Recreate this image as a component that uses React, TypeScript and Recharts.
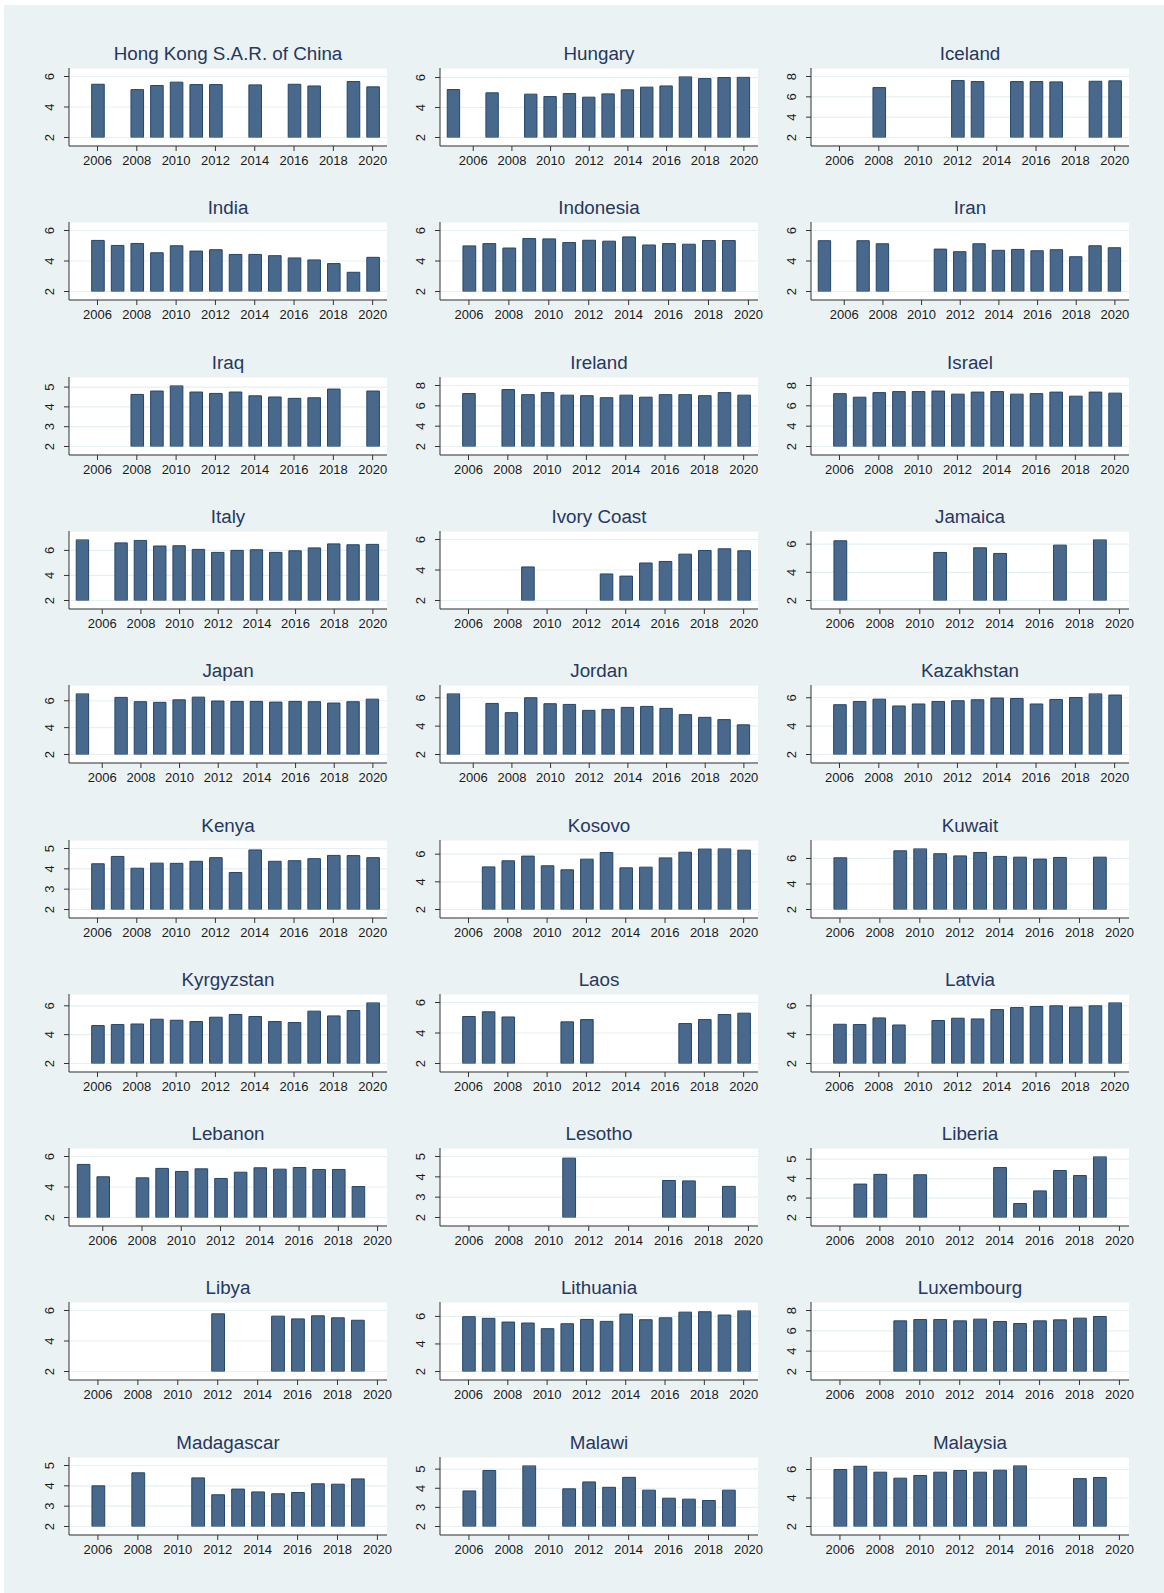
import { BarChart, Bar, XAxis, YAxis, CartesianGrid } from "recharts";

const YEARS = [2005, 2006, 2007, 2008, 2009, 2010, 2011, 2012, 2013, 2014, 2015, 2016, 2017, 2018, 2019, 2020];
const X_TICKS = [2006, 2008, 2010, 2012, 2014, 2016, 2018, 2020];
const TICKS_246 = [2, 4, 6];
const TICKS_2468 = [2, 4, 6, 8];
const TICKS_2345 = [2, 3, 4, 5];
const BASE = 2;

// one value per year 2005..2020, null = no observation
const hongKong = [null, 5.49, null, 5.14, 5.41, 5.63, 5.47, 5.47, null, 5.45, null, 5.49, 5.38, null, 5.67, 5.32];
const hungary = [5.2, null, 4.98, null, 4.89, 4.73, 4.93, 4.69, 4.91, 5.18, 5.36, 5.44, 6.07, 5.93, 6.0, 6.02];
const iceland = [null, null, null, 6.91, null, null, null, 7.6, 7.5, null, 7.5, 7.5, 7.47, null, 7.53, 7.57];
const india = [null, 5.35, 5.02, 5.15, 4.54, 5.0, 4.65, 4.74, 4.43, 4.43, 4.35, 4.2, 4.07, 3.83, 3.26, 4.24];
const indonesia = [null, 4.99, 5.14, 4.85, 5.47, 5.45, 5.21, 5.36, 5.3, 5.58, 5.05, 5.14, 5.1, 5.34, 5.34, null];
const iran = [5.33, null, 5.33, 5.13, null, null, 4.78, 4.61, 5.13, 4.7, 4.76, 4.67, 4.74, 4.28, 5.0, 4.87];
const iraq = [null, null, null, 4.63, 4.8, 5.08, 4.75, 4.68, 4.75, 4.56, 4.5, 4.43, 4.46, 4.9, null, 4.8];
const ireland = [null, 7.21, null, 7.6, 7.1, 7.3, 7.05, 7.0, 6.8, 7.05, 6.85, 7.1, 7.1, 7.0, 7.3, 7.05];
const israel = [null, 7.2, 6.85, 7.3, 7.4, 7.4, 7.45, 7.15, 7.35, 7.4, 7.15, 7.2, 7.35, 6.95, 7.35, 7.25];
const italy = [6.87, null, 6.6, 6.8, 6.35, 6.37, 6.08, 5.84, 6.0, 6.05, 5.84, 5.97, 6.2, 6.52, 6.45, 6.48];
const ivoryCoast = [null, null, null, null, 4.2, null, null, null, 3.74, 3.6, 4.46, 4.56, 5.04, 5.28, 5.39, 5.26];
const jamaica = [null, 6.24, null, null, null, null, 5.41, null, 5.74, 5.34, null, null, 5.93, null, 6.33, null];
const japan = [6.54, null, 6.25, 5.93, 5.88, 6.07, 6.27, 5.98, 5.95, 5.95, 5.9, 5.95, 5.93, 5.83, 5.93, 6.12];
const jordan = [6.3, null, 5.6, 4.95, 6.0, 5.58, 5.53, 5.11, 5.18, 5.32, 5.39, 5.25, 4.81, 4.62, 4.46, 4.09];
const kazakhstan = [null, 5.51, 5.74, 5.9, 5.42, 5.56, 5.74, 5.79, 5.86, 5.98, 5.95, 5.56, 5.88, 6.02, 6.3, 6.19];
const kenya = [null, 4.25, 4.61, 4.03, 4.28, 4.27, 4.37, 4.55, 3.82, 4.93, 4.37, 4.4, 4.5, 4.66, 4.65, 4.55];
const kosovo = [null, null, 5.08, 5.52, 5.86, 5.16, 4.87, 5.64, 6.12, 5.01, 5.06, 5.73, 6.14, 6.39, 6.41, 6.29];
const kuwait = [null, 6.05, null, null, 6.6, 6.78, 6.37, 6.2, 6.47, 6.16, 6.1, 5.95, 6.08, null, 6.1, null];
const kyrgyzstan = [null, 4.63, 4.7, 4.74, 5.07, 5.0, 4.91, 5.21, 5.4, 5.26, 4.91, 4.84, 5.63, 5.3, 5.67, 6.23];
const laos = [null, 5.08, 5.39, 5.05, null, null, 4.73, 4.88, null, null, null, null, 4.62, 4.88, 5.21, 5.3];
const latvia = [null, 4.72, 4.7, 5.16, 4.67, null, 4.98, 5.14, 5.09, 5.74, 5.88, 5.95, 6.0, 5.91, 6.0, 6.23];
const lebanon = [5.48, 4.67, null, 4.6, 5.22, 5.02, 5.19, 4.56, 4.97, 5.26, 5.17, 5.28, 5.15, 5.15, 4.03, null];
const lesotho = [null, null, null, null, null, null, 4.92, null, null, null, null, 3.82, 3.8, null, 3.53, null];
const liberia = [null, null, 3.72, 4.22, null, 4.2, null, null, null, 4.57, 2.72, 3.37, 4.42, 4.16, 5.14, null];
const libya = [null, null, null, null, null, null, null, 5.78, null, null, 5.63, 5.45, 5.65, 5.52, 5.36, null];
const lithuania = [null, 5.98, 5.86, 5.59, 5.52, 5.11, 5.47, 5.78, 5.64, 6.17, 5.76, 5.9, 6.31, 6.34, 6.1, 6.43];
const luxembourg = [null, null, null, null, 6.98, 7.11, 7.11, 6.98, 7.15, 6.92, 6.72, 6.98, 7.08, 7.25, 7.41, null];
const madagascar = [null, 4.0, null, 4.64, null, null, 4.39, 3.56, 3.84, 3.7, 3.61, 3.67, 4.1, 4.08, 4.34, null];
const malawi = [null, 3.86, 4.93, null, 5.19, null, 3.97, 4.33, 4.05, 4.57, 3.9, 3.48, 3.43, 3.36, 3.9, null];
const malaysia = [null, 6.0, 6.24, 5.81, 5.39, 5.58, 5.81, 5.93, 5.81, 5.95, 6.28, null, null, 5.36, 5.44, null];

const PANELS = [
  { name: "Hong Kong S.A.R. of China", values: hongKong, ticks: TICKS_246 },
  { name: "Hungary", values: hungary, ticks: TICKS_246 },
  { name: "Iceland", values: iceland, ticks: TICKS_2468 },
  { name: "India", values: india, ticks: TICKS_246 },
  { name: "Indonesia", values: indonesia, ticks: TICKS_246 },
  { name: "Iran", values: iran, ticks: TICKS_246 },
  { name: "Iraq", values: iraq, ticks: TICKS_2345 },
  { name: "Ireland", values: ireland, ticks: TICKS_2468 },
  { name: "Israel", values: israel, ticks: TICKS_2468 },
  { name: "Italy", values: italy, ticks: TICKS_246 },
  { name: "Ivory Coast", values: ivoryCoast, ticks: TICKS_246 },
  { name: "Jamaica", values: jamaica, ticks: TICKS_246 },
  { name: "Japan", values: japan, ticks: TICKS_246 },
  { name: "Jordan", values: jordan, ticks: TICKS_246 },
  { name: "Kazakhstan", values: kazakhstan, ticks: TICKS_246 },
  { name: "Kenya", values: kenya, ticks: TICKS_2345 },
  { name: "Kosovo", values: kosovo, ticks: TICKS_246 },
  { name: "Kuwait", values: kuwait, ticks: TICKS_246 },
  { name: "Kyrgyzstan", values: kyrgyzstan, ticks: TICKS_246 },
  { name: "Laos", values: laos, ticks: TICKS_246 },
  { name: "Latvia", values: latvia, ticks: TICKS_246 },
  { name: "Lebanon", values: lebanon, ticks: TICKS_246 },
  { name: "Lesotho", values: lesotho, ticks: TICKS_2345 },
  { name: "Liberia", values: liberia, ticks: TICKS_2345 },
  { name: "Libya", values: libya, ticks: TICKS_246 },
  { name: "Lithuania", values: lithuania, ticks: TICKS_246 },
  { name: "Luxembourg", values: luxembourg, ticks: TICKS_2468 },
  { name: "Madagascar", values: madagascar, ticks: TICKS_2345 },
  { name: "Malawi", values: malawi, ticks: TICKS_2345 },
  { name: "Malaysia", values: malaysia, ticks: TICKS_246 },
];

const FONT = "'Liberation Sans', Arial, Helvetica, sans-serif";
const BG = "#eaf2f3";
const GRID = "#e6eff1";
const AXIS = "#333333";
const BAR_FILL = "#48698b";
const BAR_STROKE = "#23466c";
const TITLE_COLOR = "#27375e";

const COL_X = [69, 440, 811];
const ROW_Y0 = 68;
const ROW_STEP = 154.3;
const PLOT_W = 318;
const PLOT_H = 78;
const AXIS_W = 52;
const AXIS_H = 30;
const RIGHT_PAD = 12;
const PAD = 8.5;

const XTick = (props: any) => {
  const { x, y, payload } = props;
  return (
    <text x={x} y={y + 13.8} textAnchor="middle" fontSize={13} fill="#1a1a1a" fontFamily={FONT}>
      {payload.value}
    </text>
  );
};

const YTick = (props: any) => {
  const { x, y, payload } = props;
  const bx = x - 10;
  return (
    <text
      x={bx}
      y={y}
      transform={`rotate(-90, ${bx}, ${y})`}
      textAnchor="middle"
      fontSize={13}
      fill="#1a1a1a"
      fontFamily={FONT}
    >
      {payload.value}
    </text>
  );
};

function Panel({ panel, index }: { panel: (typeof PANELS)[number]; index: number }) {
  const col = index % 3;
  const row = Math.floor(index / 3);
  const data = YEARS.map((year, i) => ({ year, v: panel.values[i] }))
    .filter((d) => d.v != null)
    .map((d) => ({ year: d.year, range: [BASE, d.v as number] }));

  const first = data[0].year;
  const last = data[data.length - 1].year;
  const lo = first <= 2005 ? 2004.28 : 2004.55;
  const hi = last >= 2020 ? 2020.73 : 2020.48;
  const top = Math.max(panel.ticks[panel.ticks.length - 1], ...data.map((d) => d.range[1]));
  const barSize = (0.64 * PLOT_W) / (hi - lo);

  const plotLeft = COL_X[col];
  const plotTop = ROW_Y0 + ROW_STEP * row;

  return (
    <>
      <div
        style={{
          position: "absolute",
          left: plotLeft,
          top: plotTop - 25,
          width: PLOT_W,
          height: 22,
          lineHeight: "22px",
          textAlign: "center",
          fontFamily: FONT,
          fontSize: 18.8,
          color: TITLE_COLOR,
          whiteSpace: "nowrap",
        }}
      >
        {panel.name}
      </div>
      <div style={{ position: "absolute", left: plotLeft - AXIS_W, top: plotTop }}>
        <BarChart
          width={AXIS_W + PLOT_W + RIGHT_PAD}
          height={PLOT_H + AXIS_H}
          data={data}
          margin={{ top: 0, right: RIGHT_PAD, bottom: 0, left: 0 }}
        >
          <CartesianGrid vertical={false} stroke={GRID} strokeWidth={1.2} fill="#ffffff" />
          <XAxis
            dataKey="year"
            type="number"
            domain={[lo, hi]}
            allowDataOverflow
            ticks={X_TICKS}
            interval={0}
            height={AXIS_H}
            tickSize={5}
            tickMargin={0}
            axisLine={{ stroke: AXIS }}
            tickLine={{ stroke: AXIS }}
            tick={<XTick />}
          />
          <YAxis
            type="number"
            domain={[BASE, top]}
            allowDataOverflow
            ticks={panel.ticks}
            interval={0}
            width={AXIS_W}
            tickSize={5}
            tickMargin={0}
            padding={{ top: PAD, bottom: PAD }}
            axisLine={{ stroke: AXIS }}
            tickLine={{ stroke: AXIS }}
            tick={<YTick />}
          />
          <Bar
            dataKey="range"
            fill={BAR_FILL}
            stroke={BAR_STROKE}
            strokeWidth={1}
            barSize={barSize}
            isAnimationActive={false}
          />
        </BarChart>
      </div>
    </>
  );
}

export default function App() {
  return (
    <div style={{ position: "absolute", left: 0, top: 0, width: 1164, height: 1593, background: "#ffffff" }}>
      <div style={{ position: "absolute", left: 4, top: 5, width: 1160, height: 1588, background: BG }} />
      {PANELS.map((p, i) => (
        <Panel key={p.name} panel={p} index={i} />
      ))}
    </div>
  );
}
